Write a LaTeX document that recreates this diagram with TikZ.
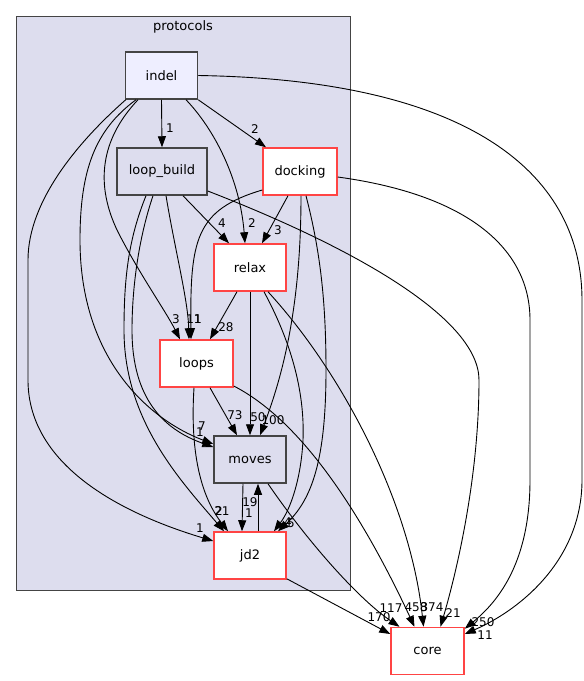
\documentclass[tikz,border=0pt]{standalone}
\usepackage{fontspec}
\setmainfont{DejaVu Sans}
\usetikzlibrary{arrows.meta,calc}
\definecolor{clusterfill}{RGB}{221,221,238}
\definecolor{indelfill}{RGB}{238,238,255}
\definecolor{doxred}{RGB}{255,68,68}
\definecolor{doxgray}{RGB}{68,68,68}
\begin{document}
\begin{tikzpicture}[x=1pt,y=-1pt,
  dirbox/.style={draw=doxgray,line width=1.5pt,minimum width=72pt,minimum height=47pt,inner sep=0pt,font=\fontsize{13}{15}\selectfont,fill=clusterfill},
  redbox/.style={dirbox,draw=doxred,fill=white},
  dep/.style={-{Triangle[length=11pt,width=8pt]},line width=0.9pt},
  elabel/.style={font=\fontsize{12}{14}\selectfont,inner sep=0pt}]
\useasboundingbox (0,0) rectangle (584,681);
\node[draw=doxgray,fill=clusterfill,line width=1pt,minimum width=334pt,minimum height=574pt,inner sep=0pt] (protocols) at (183,303) {};
\node[font=\fontsize{13}{15}\selectfont,inner sep=0pt] (protocolslabel) at (183,27) {protocols};

\node[dirbox,fill=indelfill] (indel) at (161.5,75.5) {indel};
\node[dirbox,minimum width=90pt] (loop_build) at (162,171.5) {loop\_build};
\node[redbox,minimum width=74pt] (docking) at (300,171.5) {docking};
\node[redbox] (relax) at (250,267.5) {relax};
\node[redbox,minimum width=73pt] (loops) at (196.5,363.5) {loops};
\node[dirbox] (moves) at (250,459.5) {moves};
\node[redbox] (jd2) at (250,555.5) {jd2};
\node[redbox,minimum width=73pt] (core) at (427.5,651) {core};

% indel
\draw[dep] (indel.south) -- (loop_build.north);
\draw[dep] (indel.south east) -- ([xshift=-34pt]docking.north);
\draw[dep] ([xshift=24.5pt]indel.south) .. controls (215,130) and (240,180) .. ([xshift=-5pt]relax.north);
\draw[dep] ([xshift=1pt]indel.south west) .. controls (80,140) and (28,200) .. (28,260) -- (28,380) .. controls (28,460) and (110,510) .. ([yshift=14.5pt]jd2.west);
\draw[dep] ([xshift=-25.5pt]indel.south) .. controls (95,130) and (80,170) .. (80,240) .. controls (80,360) and (150,420) .. ([yshift=15.5pt]moves.west);
\draw[dep] ([xshift=-23.5pt]indel.south) .. controls (100,140) and (95,185) .. (118,232) .. controls (140,275) and (165,310) .. ([xshift=-16.5pt]loops.north);
\draw[dep] (indel.east) .. controls (480,80) and (582,180) .. (582,300) -- (582,480) .. controls (582,560) and (520,610) .. ([yshift=17pt]core.east);

% loop_build
\draw[dep] ([xshift=21pt]loop_build.south) -- ([xshift=-21pt]relax.north);
\draw[dep] ([yshift=-19.5pt]loop_build.east) .. controls (360,250) and (479,320) .. (479,380) .. controls (479,470) and (460,560) .. ([xshift=13pt]core.north);
\draw[dep] ([xshift=4pt]loop_build.south) .. controls (175,250) and (188,300) .. ([xshift=-7.5pt]loops.north);
\draw[dep] ([xshift=-9pt]loop_build.south) .. controls (138,240) and (132,290) .. (132,330) .. controls (132,400) and (165,430) .. ([yshift=12.5pt]moves.west);
\draw[dep] ([xshift=-16pt]loop_build.south) .. controls (128,240) and (124,280) .. (124,330) .. controls (124,420) and (180,480) .. ([xshift=-26pt]jd2.north);

% docking
\draw[dep] ([xshift=-12pt]docking.south) -- ([xshift=12pt]relax.north);
\draw[dep] ([yshift=-18.5pt]docking.west) .. controls (195,210) and (190,240) .. ([xshift=-5.5pt]loops.north);
\draw[dep] ([xshift=1pt]docking.south) .. controls (301,300) and (285,370) .. ([xshift=10pt]moves.north);
\draw[dep] ([xshift=6pt]docking.south) .. controls (320,250) and (326,300) .. (326,370) .. controls (326,460) and (312,500) .. ([xshift=28pt]jd2.north);
\draw[dep] ([yshift=-5.5pt]docking.east) .. controls (470,195) and (530,250) .. (530,320) -- (530,480) .. controls (530,560) and (500,600) .. ([yshift=-2pt]core.north east);

% relax
\draw[dep] ([xshift=-13pt]relax.south) -- ([xshift=13.5pt]loops.north);
\draw[dep] (relax.south) -- (moves.north);
\draw[dep] ([xshift=14pt]relax.south) .. controls (290,340) and (305,390) .. (303,440) .. controls (301,480) and (290,510) .. ([xshift=24pt]jd2.north);
\draw[dep] ([xshift=18pt]relax.south) .. controls (340,370) and (410,500) .. ([xshift=-4pt]core.north);

% loops
\draw[dep] ([xshift=13.5pt]loops.south) -- ([xshift=-13pt]moves.north);
\draw[dep] ([xshift=-2.5pt]loops.south) .. controls (190,450) and (200,495) .. ([xshift=-22pt]jd2.north);
\draw[dep] ([yshift=-22.5pt]loops.east) .. controls (300,420) and (360,510) .. ([xshift=-13pt]core.north);

% moves / jd2
\draw[dep] ([xshift=-7pt]moves.south) -- ([xshift=-8pt]jd2.north);
\draw[dep] ([xshift=8pt]jd2.north) -- ([xshift=8pt]moves.south);
\draw[dep] ([xshift=18pt]moves.south) .. controls (310,545) and (360,600) .. ([xshift=-28pt]core.north);
\draw[dep] ([yshift=1pt]jd2.south east) -- ([yshift=17pt]core.west);

% edge labels
\node[elabel] (la1) at (170,128) {1};
\node[elabel] (la2) at (255,129) {2};
\node[elabel] (la3) at (252,223) {2};
\node[elabel] (la4) at (200,528) {1};
\node[elabel] (la5) at (202,426) {7};
\node[elabel] (la6) at (176,319) {3};
\node[elabel] (la7) at (485,635) {11};
\node[elabel] (lb1) at (222,223) {4};
\node[elabel] (lb2) at (453,613) {21};
\node[elabel] (lb3) at (194,319) {11};
\node[elabel] (lb4) at (200,432) {1};
\node[elabel] (lb5) at (219,511) {2};
\node[elabel] (lc1) at (278,230) {3};
\node[elabel] (lc2) at (198,319) {1};
\node[elabel] (lc3) at (273,420) {100};
\node[elabel] (lc4) at (291,523) {5};
\node[elabel] (lc5) at (483,622) {250};
\node[elabel] (ld1) at (226,327) {28};
\node[elabel] (ld2) at (258,417) {50};
\node[elabel] (ld3) at (288,522) {4};
\node[elabel] (ld4) at (432,607) {374};
\node[elabel] (le1) at (235,415) {73};
\node[elabel] (le2) at (222,511) {21};
\node[elabel] (le3) at (416,607) {458};
\node[elabel] (lf1) at (249,513) {1};
\node[elabel] (lf2) at (250,502) {19};
\node[elabel] (lf3) at (391,608) {117};
\node[elabel] (lf4) at (379,617) {170};
\end{tikzpicture}
\end{document}
